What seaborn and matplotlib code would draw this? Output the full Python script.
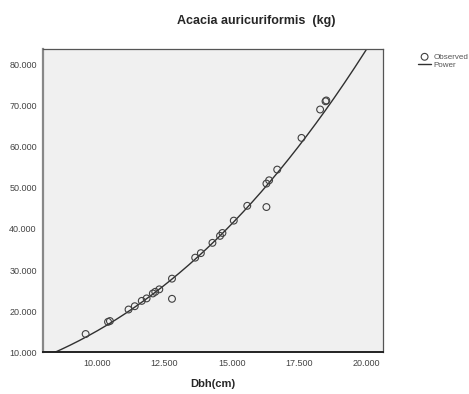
import numpy as np
import pandas as pd
import seaborn as sns
import matplotlib.pyplot as plt
from matplotlib.ticker import FuncFormatter

dbh = [9.58, 10.41, 10.48, 11.17, 11.40, 11.66, 11.84, 12.07, 12.16, 12.31,
       12.78, 12.78, 13.64, 13.85, 14.28, 14.56, 14.65, 15.07, 15.57, 16.28,
       16.28, 16.38, 16.68, 17.58, 18.27, 18.47, 18.50]
kg = [14.45, 17.4, 17.6, 20.4, 21.2, 22.5, 23.1, 24.3, 24.7, 25.3,
      27.9, 23.0, 33.0, 34.1, 36.6, 38.3, 39.0, 42.0, 45.6, 45.3,
      51.0, 51.8, 54.4, 62.1, 69.0, 71.0, 71.2]

# power model y = a * x^b (estimated from the drawn curve)
a_coef = 0.0523
b_coef = 2.463

xticks = [10, 12.5, 15, 17.5, 20]
yticks = [10, 20, 30, 40, 50, 60, 70, 80]

sns.set_style("white")
plt.rcParams['font.family'] = ['Liberation Sans', 'DejaVu Sans']

obs = pd.DataFrame({'dbh': dbh, 'kg': kg})
xs = np.linspace(8.0, 20.6, 300)
fit = pd.DataFrame({'dbh': xs, 'kg': a_coef * xs ** b_coef})

fig = plt.figure(figsize=(4.69, 3.94), dpi=100)
ax = fig.add_axes([0.0917, 0.1058, 0.7249, 0.7698])
ax.set_facecolor('#f0f0f0')

sns.lineplot(data=fit, x='dbh', y='kg', ax=ax, color='#303030', lw=1.0,
             label='Power', legend=False)
sns.scatterplot(data=obs, x='dbh', y='kg', ax=ax, s=24, facecolor='none',
                edgecolor='#404040', linewidth=0.8, label='Observed',
                legend=False, zorder=3)

ax.set_xlim(8.0, 20.6)
ax.set_ylim(10, 83.7)
ax.set_xticks(xticks)
ax.set_yticks(yticks)
fmt = FuncFormatter(lambda v, p: f'{v:.3f}')
ax.xaxis.set_major_formatter(fmt)
ax.yaxis.set_major_formatter(fmt)
ax.tick_params(axis='both', direction='out', length=3, width=0.8,
               color='#333333', labelsize=6.5, labelcolor='#444444', pad=1.5)
for lab in ax.get_xticklabels() + ax.get_yticklabels():
    lab.set_family(['Liberation Sans Narrow', 'Liberation Sans'])

ax.spines['left'].set_color('#888888')
ax.spines['left'].set_linewidth(1.6)
ax.spines['bottom'].set_color('#222222')
ax.spines['bottom'].set_linewidth(1.4)
ax.spines['top'].set_color('#555555')
ax.spines['top'].set_linewidth(0.9)
ax.spines['right'].set_color('#555555')
ax.spines['right'].set_linewidth(0.9)

ax.set_xlabel('Dbh(cm)', fontsize=8, fontweight='bold', labelpad=8)
ax.set_ylabel('')

fig.text(0.547, 0.947, 'Acacia auricuriformis  (kg)', ha='center',
         va='center', fontsize=9, fontweight='bold')

handles, labels = ax.get_legend_handles_labels()
order = [labels.index('Observed'), labels.index('Power')]
fig.legend([handles[i] for i in order], [labels[i] for i in order],
           loc='upper left', bbox_to_anchor=(0.883, 0.875), frameon=False,
           fontsize=5.8, handlelength=1.6, handletextpad=0.3, labelspacing=0.05,
           borderpad=0, labelcolor='#555555')

fig.savefig('out.png', dpi=100)
